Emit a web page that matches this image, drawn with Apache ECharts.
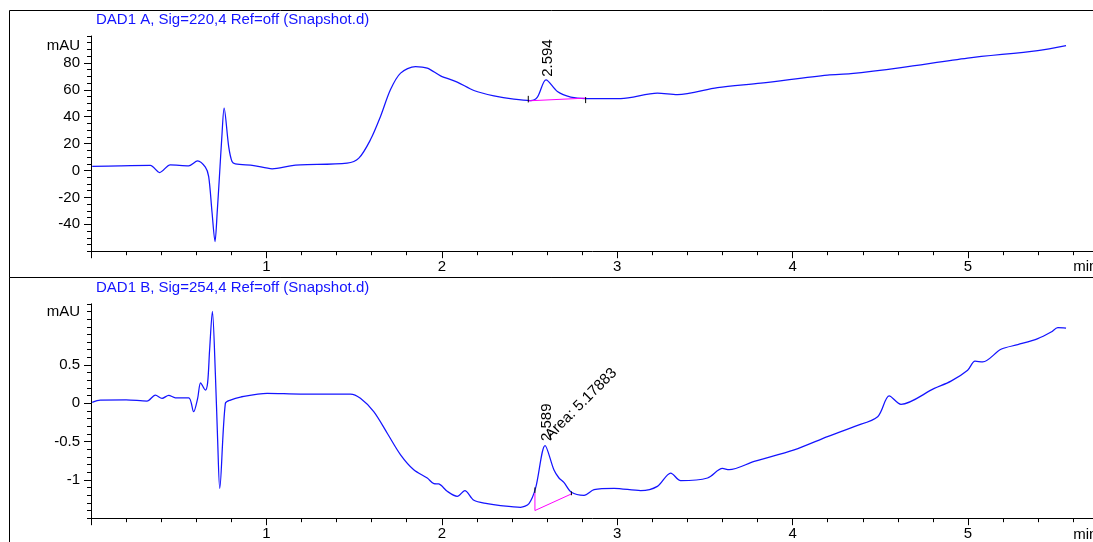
<!DOCTYPE html>
<html>
<head>
<meta charset="utf-8">
<script src="https://cdn.jsdelivr.net/npm/echarts@6/dist/echarts.min.js"></script>
<style>
  html, body { margin: 0; padding: 0; background: #fff; }
  #chart { width: 1093px; height: 542px; }
</style>
</head>
<body>
<div id="chart"></div>
<script>
// ---- Signal A: DAD1 A, 220 nm (time in min, absorbance in mAU) ----
const timeA = [0.007, 0.167, 0.338, 0.391, 0.452, 0.557, 0.608, 0.652, 0.671, 0.690, 0.707,
  0.720, 0.732, 0.746, 0.759, 0.785, 0.804, 0.823, 0.928, 1.033, 1.137, 1.194, 1.460, 1.527,
  1.593, 1.650, 1.707, 1.765, 1.850, 1.917, 1.993, 2.088, 2.183, 2.297, 2.411, 2.506, 2.545,
  2.594, 2.659, 2.735, 2.820, 3.020, 3.229, 3.343, 3.572, 3.819, 4.199, 4.332, 4.618, 4.998,
  5.398, 5.559];
const signalA = [3.0, 3.5, 3.8, -1.5, 4.2, 3.5, 7.2, 2.5, -4.5, -31, -52.8,
  -30, -5, 25, 46.4, 17.8, 6.7, 5.0, 3.7, 1.3, 3.5, 4.2, 5.5, 9.2,
  22.8, 40, 60, 72.4, 77.3, 76.1, 70.4, 65.7, 59.5, 55.5, 53, 52, 54.6,
  67.4, 58.7, 54.6, 53.5, 53.5, 57.5, 56.5, 61.7, 65, 71.0, 72.0, 76.5, 83.6,
  89.2, 92.9];

// ---- Signal B: DAD1 B, 254 nm ----
const timeB = [0.007, 0.053, 0.200, 0.319, 0.367, 0.405, 0.443, 0.481, 0.557, 0.585, 0.608,
  0.625, 0.652, 0.665, 0.676, 0.692, 0.709, 0.722, 0.734, 0.766, 0.795, 0.852, 1.004, 1.194,
  1.479, 1.536, 1.612, 1.689, 1.765, 1.840, 1.917, 1.955, 1.983, 2.031, 2.088, 2.131, 2.183,
  2.259, 2.335, 2.449, 2.497, 2.535, 2.589, 2.639, 2.668, 2.696, 2.739, 2.811, 2.868, 2.982,
  3.134, 3.229, 3.305, 3.362, 3.515, 3.600, 3.638, 3.781, 4.009, 4.199, 4.351, 4.485, 4.551,
  4.618, 4.808, 4.903, 4.998, 5.040, 5.084, 5.188, 5.284, 5.398, 5.474, 5.512, 5.559];
const signalB = [0.013, 0.043, 0.045, 0.030, 0.108, 0.065, 0.104, 0.073, 0.073, -0.109, 0.065,
  0.268, 0.173, 0.270, 0.690, 1.200, 0.390, -0.477, -1.110, 0.000, 0.043, 0.082, 0.130, 0.121,
  0.121, 0.065, -0.109, -0.390, -0.672, -0.867, -0.975, -1.049, -1.053, -1.149, -1.215, -1.140, -1.266,
  -1.309, -1.335, -1.357, -1.309, -1.105, -0.551, -0.867, -0.975, -1.032, -1.162, -1.201, -1.127, -1.110,
  -1.140, -1.084, -0.910, -1.010, -0.975, -0.850, -0.867, -0.759, -0.607, -0.434, -0.304, -0.174, 0.097,
  -0.013, 0.195, 0.290, 0.433, 0.550, 0.541, 0.706, 0.767, 0.845, 0.931, 0.988, 0.983];

// ---- Integration results ----
const peakA = [2.594, 67.4];                 // retention time, apex height
const peakB = [2.589, -0.551];
const areaB = 5.17883;
const baselineA = [[2.493, 51.8], [2.820, 53.8]];
const baselineB = [[2.531, -1.400], [2.739, -1.183]];
const dropLineB = [[2.531, -1.170], [2.531, -1.400]];
const tickMarksA = [[[2.493, 55.5], [2.493, 50.6]], [[2.820, 54.6], [2.820, 50.1]]];
const tickMarksB = [[[2.531, -1.098], [2.531, -1.170]], [[2.739, -1.150], [2.739, -1.200]]];

// ---- Axis setup ----
const xRange = [0, 6];
const xLabels = [1, 2, 3, 4, 5];
const yRangeA = [-60, 100], yStepA = 5, yLabelsA = [-40, -20, 0, 20, 40, 60, 80];
const yRangeB = [-1.5, 1.3], yStepB = 0.1, yLabelsB = [-1, -0.5, 0, 0.5];
const titles = ['DAD1 A, Sig=220,4 Ref=off (Snapshot.d)', 'DAD1 B, Sig=254,4 Ref=off (Snapshot.d)'];

const FONT = '"Liberation Sans", Arial, Helvetica, sans-serif';
const TRACE = '#1414ff';
const BASE = '#ff00ff';
const MIN_PER_PX = 175.4;

const pair = (xs, ys) => xs.map((x, i) => [x, ys[i]]);

const chart = echarts.init(document.getElementById('chart'), null, { renderer: 'canvas' });

const grids = [
  { left: 91, top: 36, width: 6 * MIN_PER_PX, height: 215.2, outerBoundsMode: 'none', containLabel: false },
  { left: 91, top: 303.8, width: 6 * MIN_PER_PX, height: 214.4, outerBoundsMode: 'none', containLabel: false }
];

function xAxis(gi) {
  return {
    type: 'value', gridIndex: gi, min: xRange[0], max: xRange[1], interval: 1,
    axisLine: { onZero: false, lineStyle: { color: '#000', width: 1 } },
    axisTick: { length: 7, lineStyle: { color: '#000' } },
    minorTick: { show: true, splitNumber: 5, length: 4, lineStyle: { color: '#000' } },
    splitLine: { show: false }, minorSplitLine: { show: false },
    axisLabel: {
      color: '#000', fontSize: 15, fontFamily: FONT, margin: 8, hideOverlap: false,
      formatter: v => (xLabels.indexOf(v) >= 0 ? String(v) : '')
    }
  };
}

function yAxes(gi, range, step, labels) {
  return [
    {
      type: 'value', gridIndex: gi, position: 'left', min: range[0], max: range[1], interval: step,
      axisLine: { show: true, onZero: false, lineStyle: { color: '#000', width: 1 } },
      axisTick: { show: true, length: 4, lineStyle: { color: '#000' } },
      splitLine: { show: false },
      axisLabel: { color: '#000', fontSize: 15, fontFamily: FONT, margin: 11, customValues: labels }
    },
    {
      type: 'value', gridIndex: gi, position: 'left', min: range[0], max: range[1],
      axisLine: { show: false, onZero: false },
      axisTick: { show: true, length: 7, customValues: labels, lineStyle: { color: '#000' } },
      axisLabel: { show: false },
      splitLine: { show: false }
    }
  ];
}

function segment(data, xi, yi, color) {
  return {
    type: 'line', xAxisIndex: xi, yAxisIndex: yi, data: data, symbol: 'none',
    lineStyle: { color: color, width: 1 }, silent: true, animation: false, z: 4
  };
}

const series = [
  {
    type: 'line', xAxisIndex: 0, yAxisIndex: 0, data: pair(timeA, signalA),
    symbol: 'none', smooth: 0.3, lineStyle: { color: TRACE, width: 1.25 }, animation: false, z: 3
  },
  {
    type: 'line', xAxisIndex: 1, yAxisIndex: 2, data: pair(timeB, signalB),
    symbol: 'none', smooth: 0.3, lineStyle: { color: TRACE, width: 1.25 }, animation: false, z: 3
  },
  segment(baselineA, 0, 0, BASE),
  segment(baselineB, 1, 2, BASE),
  segment(dropLineB, 1, 2, BASE)
];
tickMarksA.forEach(t => series.push(segment(t, 0, 0, '#000')));
tickMarksB.forEach(t => series.push(segment(t, 1, 2, '#000')));

chart.setOption({
  animation: false,
  backgroundColor: '#fff',
  title: titles.map((t, i) => ({
    text: t, left: 96, top: i === 0 ? 12 : 280, padding: 0,
    textStyle: { color: TRACE, fontSize: 15, fontWeight: 'normal', fontFamily: FONT }
  })),
  grid: grids,
  xAxis: [xAxis(0), xAxis(1)],
  yAxis: [].concat(yAxes(0, yRangeA, yStepA, yLabelsA), yAxes(1, yRangeB, yStepB, yLabelsB)),
  series: series
});

// ---- Text annotations and panel frames, placed through the axes ----
const px = (gi, yi, pt) => chart.convertToPixel({ xAxisIndex: gi, yAxisIndex: yi }, pt);
const aTop = px(0, 0, peakA);
const bTop = px(1, 2, peakB);
const unitRowA = px(0, 0, [0, 93]);
const unitRowB = px(1, 2, [0, 1.19]);
const minTickA = px(0, 0, [5.6, yRangeA[0]]);
const minTickB = px(1, 2, [5.6, yRangeB[0]]);

const textStyle = (text, extra) => Object.assign({ text: text, fill: '#000', fontSize: 15, fontFamily: FONT }, extra);

chart.setOption({
  graphic: [
    { type: 'rect', silent: true, z: 0, shape: { x: 9.5, y: 10.5, width: 1200, height: 267 },
      style: { fill: null, stroke: '#000', lineWidth: 1 } },
    { type: 'rect', silent: true, z: 0, shape: { x: 9.5, y: 277.5, width: 1200, height: 300 },
      style: { fill: null, stroke: '#000', lineWidth: 1 } },
    { type: 'text', x: 80, y: unitRowA[1], style: textStyle('mAU', { align: 'right', verticalAlign: 'middle' }) },
    { type: 'text', x: 80, y: unitRowB[1], style: textStyle('mAU', { align: 'right', verticalAlign: 'middle' }) },
    { type: 'text', x: minTickA[0], y: minTickA[1] + 16, style: textStyle('min', { align: 'left', verticalAlign: 'middle' }) },
    { type: 'text', x: minTickB[0], y: minTickB[1] + 17, style: textStyle('min', { align: 'left', verticalAlign: 'middle' }) },
    { type: 'text', x: aTop[0] + 2, y: aTop[1] - 3, rotation: Math.PI / 2,
      style: textStyle(peakA[0].toFixed(3), { align: 'left', verticalAlign: 'middle' }) },
    { type: 'text', x: bTop[0] + 1.5, y: bTop[1] - 4.5, rotation: Math.PI / 2,
      style: textStyle(peakB[0].toFixed(3), { align: 'left', verticalAlign: 'middle' }) },
    { type: 'text', x: bTop[0] + 8, y: bTop[1] - 3, rotation: Math.PI / 4,
      style: textStyle('Area: ' + areaB, { align: 'left', verticalAlign: 'bottom' }) }
  ]
});
</script>
</body>
</html>
